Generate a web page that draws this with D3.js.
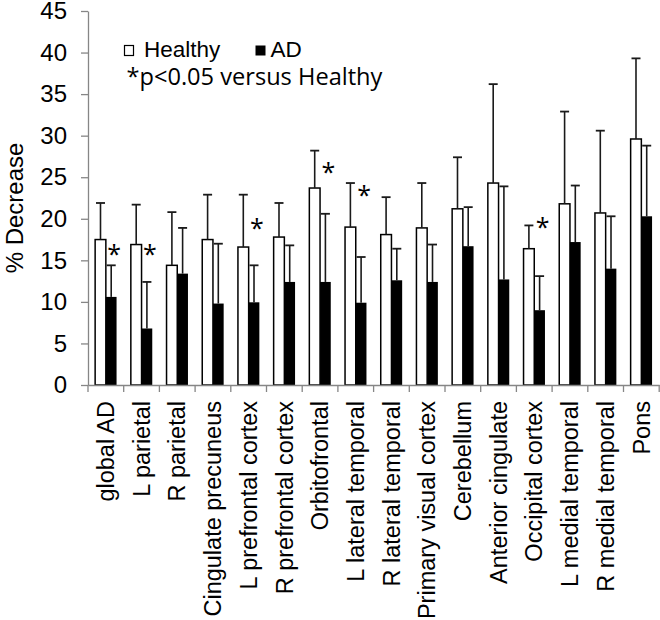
<!DOCTYPE html>
<html>
<head>
<meta charset="utf-8">
<script src="https://cdn.jsdelivr.net/npm/d3@7"></script>
<style>
  html, body { margin: 0; padding: 0; background: #fff; }
  svg { display: block; }
</style>
</head>
<body>
<svg id="chart" width="660" height="620"></svg>
<script>
// ---- data ----
const categories = ["global AD", "L parietal", "R parietal", "Cingulate precuneus",
  "L prefrontal cortex", "R prefrontal cortex", "Orbitofrontal", "L lateral temporal",
  "R lateral temporal", "Primary visual cortex", "Cerebellum", "Anterior cingulate",
  "Occipital cortex", "L medial temporal", "R medial temporal", "Pons"];
const healthy    = [17.5, 16.9, 14.4, 17.5, 16.6, 17.8, 23.7, 19.0, 18.1, 18.9, 21.2, 24.3, 16.4, 21.8, 20.7, 29.6];
const healthyErr = [4.4, 4.8, 6.4, 5.4, 6.3, 4.1, 4.5, 5.3, 4.5, 5.4, 6.2, 11.9, 2.8, 11.1, 9.9, 9.7];
const ad         = [10.6, 6.8, 13.4, 9.8, 9.95, 12.4, 12.4, 9.9, 12.6, 12.4, 16.7, 12.7, 9.0, 17.2, 14.0, 20.3];
const adErr      = [3.8, 5.6, 5.5, 7.2, 4.45, 4.4, 8.2, 5.5, 3.8, 4.5, 4.7, 11.2, 4.1, 6.8, 6.3, 8.5];
// asterisk (p<0.05) marker level, null = not significant
const sigLevel   = [16.2, 16.2, null, null, 19.4, null, 26.1, 23.3, null, null, null, null, 19.5, null, null, null];
const yTicks = [0, 5, 10, 15, 20, 25, 30, 35, 40, 45];
const seriesNames = ["Healthy", "AD"];
const yTitle = "% Decrease";
const noteText = "*p<0.05 versus Healthy";

(function () {
// ---- layout ----
const svg = d3.select("#chart");
const mLeft = 88, mRight = 659.2, mTop = 11, mBottom = 385;
const axisColor = "#868686";
const sans = "'Liberation Sans', Arial, sans-serif";
const noteFont = "'Open Sans', 'Noto Sans', sans-serif";

const y = d3.scaleLinear().domain([0, 45]).range([mBottom, mTop]);
const x = d3.scaleBand().domain(categories).range([mLeft, mRight]).padding(0);
const bw = x.bandwidth();
const barW = bw * 0.3;

// ---- y axis ----
const yAxis = svg.append("g")
  .attr("transform", `translate(${mLeft},0)`)
  .call(d3.axisLeft(y).tickValues(yTicks).tickSize(7).tickSizeOuter(0).tickPadding(14));
yAxis.select(".domain").attr("stroke", axisColor).attr("stroke-width", 1.3);
yAxis.selectAll(".tick line").attr("stroke", axisColor).attr("stroke-width", 1.3);
yAxis.selectAll(".tick text").attr("font-family", sans).attr("font-size", 24).attr("fill", "#000");

// ---- bars ----
const rows = categories.map((c, i) => ({c, h: healthy[i], he: healthyErr[i], a: ad[i], ae: adErr[i], s: sigLevel[i]}));

const g = svg.append("g");
g.selectAll("rect.h").data(rows).join("rect")
  .attr("class", "h")
  .attr("x", d => x(d.c) + bw * 0.2)
  .attr("width", barW)
  .attr("y", d => y(d.h))
  .attr("height", d => y(0) - y(d.h))
  .attr("fill", "#fff").attr("stroke", "#000").attr("stroke-width", 1.5);
g.selectAll("rect.a").data(rows).join("rect")
  .attr("class", "a")
  .attr("x", d => x(d.c) + bw * 0.5)
  .attr("width", barW)
  .attr("y", d => y(d.a))
  .attr("height", d => y(0) - y(d.a))
  .attr("fill", "#000");

function errBars(cls, off, valKey, errKey) {
  const eg = g.selectAll("g." + cls).data(rows).join("g").attr("class", cls);
  const cx = d => x(d.c) + bw * off + barW / 2;
  eg.append("line")
    .attr("x1", cx).attr("x2", cx)
    .attr("y1", d => y(d[valKey])).attr("y2", d => y(d[valKey] + d[errKey]))
    .attr("stroke", "#1a1a1a").attr("stroke-width", 1.6);
  eg.append("line")
    .attr("x1", d => cx(d) - 4.5).attr("x2", d => cx(d) + 4.5)
    .attr("y1", d => y(d[valKey] + d[errKey])).attr("y2", d => y(d[valKey] + d[errKey]))
    .attr("stroke", "#1a1a1a").attr("stroke-width", 1.8);
}
errBars("he", 0.2, "h", "he");
errBars("ae", 0.5, "a", "ae");

g.selectAll("text.sig").data(rows.filter(d => d.s != null)).join("text")
  .attr("class", "sig")
  .attr("x", d => x(d.c) + bw * 0.5 + barW / 2 + 3)
  .attr("y", d => y(d.s) + 13)
  .attr("text-anchor", "middle")
  .attr("font-family", noteFont).attr("font-size", 25).attr("fill", "#000")
  .text("*");

// ---- x axis ----
const xAxis = svg.append("g")
  .attr("transform", `translate(0,${mBottom})`)
  .call(d3.axisBottom(x).tickSize(0).tickSizeOuter(0));
xAxis.select(".domain").attr("stroke", axisColor).attr("stroke-width", 1.3);
xAxis.selectAll(".tick text")
  .attr("font-family", sans).attr("font-size", 23.5).attr("fill", "#000")
  .attr("x", 0).attr("y", 0).attr("dy", "0.35em")
  .attr("text-anchor", "end")
  .attr("transform", "translate(0,16) rotate(-90)");
const bounds = categories.map(c => x(c)).concat([x(categories[categories.length - 1]) + bw]);
xAxis.selectAll("line.bt").data(bounds).join("line")
  .attr("class", "bt")
  .attr("x1", d => d).attr("x2", d => d)
  .attr("y1", 0).attr("y2", 7)
  .attr("stroke", axisColor).attr("stroke-width", 1.3);

// ---- y title ----
svg.append("text")
  .attr("transform", "translate(23,208) rotate(-90)")
  .attr("text-anchor", "middle")
  .attr("font-family", sans).attr("font-size", 24).attr("fill", "#000")
  .text(yTitle);

// ---- legend ----
const leg = svg.append("g");
leg.append("rect").attr("x", 124.5).attr("y", 45.5).attr("width", 9).attr("height", 10)
  .attr("fill", "#fff").attr("stroke", "#000").attr("stroke-width", 1.2);
leg.append("text").attr("x", 144).attr("y", 57)
  .attr("font-family", sans).attr("font-size", 22.5).attr("fill", "#000").text(seriesNames[0]);
leg.append("rect").attr("x", 255.5).attr("y", 45.5).attr("width", 10).attr("height", 10)
  .attr("fill", "#000");
leg.append("text").attr("x", 270.5).attr("y", 57)
  .attr("font-family", sans).attr("font-size", 22.5).attr("fill", "#000").text(seriesNames[1]);

const note = leg.append("text").attr("x", 126.5).attr("y", 85)
  .attr("font-family", noteFont).attr("font-size", 20).attr("fill", "#000").text(noteText);
const len = note.node().getComputedTextLength();
note.attr("font-size", 20 * 256 / len);
})();
</script>
</body>
</html>
